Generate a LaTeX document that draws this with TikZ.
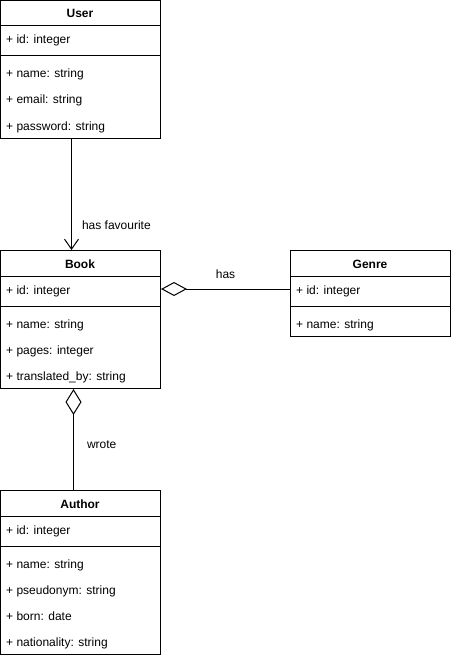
\documentclass[tikz,border=0pt]{standalone}
\usepackage{fontspec}
\setmainfont{Liberation Sans}
\usetikzlibrary{arrows.meta}
\begin{document}
\begin{tikzpicture}
[x=1pt,y=-1pt,
  classdecorate/.style={shape=rectangle,draw,line width=1pt,anchor=north west,minimum width=160pt,inner sep=0pt},%
  titledecorate/.style={font=\fontsize{12}{14}\selectfont\bfseries,anchor=base,inner sep=0pt},%
  fielddecorate/.style={font=\fontsize{12}{14}\selectfont,anchor=base west,inner sep=0pt},%
  labeldecorate/.style={font=\fontsize{12}{14}\selectfont,inner sep=0pt},%
  linedecorate/.style={line width=1pt}]
\useasboundingbox (0,0) rectangle (451,658);
%% classes
\foreach \classname/\x/\y/\h/\title in {user/0/0/138/User, book/0/250/138/Book, genre/290/250/86/Genre, author/0/490/164/Author} {
  \node (\classname) at (\x,\y) [classdecorate,minimum height=\h pt] {};
  \node (\classname-title) at (\x+80,\y+18) [titledecorate] {\title};
  \draw[linedecorate] ([yshift=-26pt]\classname.north west) -- ([yshift=-26pt]\classname.north east);
  \draw[linedecorate] ([yshift=-56pt]\classname.north west) -- ([yshift=-56pt]\classname.north east);
}
%% fields
\foreach \fieldname/\x/\y/\fieldtext in {user-id/0/39/id: integer, user-name/0/73/name: string,
  user-email/0/99/email: string, user-password/0/125/password: string,
  book-id/0/289/id: integer, book-name/0/323/name: string, book-pages/0/349/pages: integer,
  book-translated/0/375/translated\_by: string,
  genre-id/290/289/id: integer, genre-name/290/323/name: string,
  author-id/0/529/id: integer, author-name/0/563/name: string, author-pseudonym/0/589/pseudonym: string,
  author-born/0/615/born: date, author-nationality/0/641/nationality: string} {
  \node (\fieldname) at (\x+6,\y+5) [fielddecorate] {+ \fieldtext};
}
%% relations
\draw[linedecorate,-{Straight Barb[length=10pt,width=14pt]}] ([xshift=-9pt]user.south) -- ([xshift=-9pt]book.north)
  node[labeldecorate,pos=0.78,anchor=west,xshift=10pt] {has favourite};
\draw[linedecorate,{Diamond[open,length=26pt,width=14pt]}-] (book.east |- 0,289) -- (genre.west |- 0,289)
  node[labeldecorate,midway,anchor=south,yshift=10pt] {has};
\draw[linedecorate,{Diamond[open,length=26pt,width=16pt]}-] ([xshift=-7pt]book.south) -- ([xshift=-7pt]author.north)
  node[labeldecorate,pos=0.55,anchor=west,xshift=13pt] {wrote};
\end{tikzpicture}
\end{document}
